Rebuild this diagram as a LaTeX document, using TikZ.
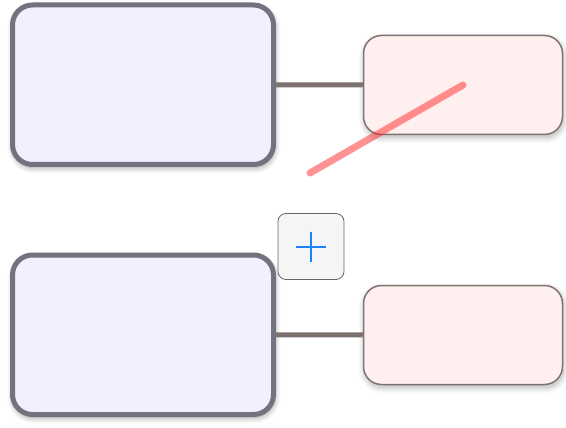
\documentclass[tikz,border=0pt]{standalone}
\usetikzlibrary{shadows.blur}
\definecolor{bigfill}{HTML}{F0F0FE}
\definecolor{bigdraw}{HTML}{737380}
\definecolor{pinkfill}{HTML}{FFF0EF}
\definecolor{pinkdraw}{HTML}{7F7372}
\definecolor{linkcol}{HTML}{7D7170}
\definecolor{btnfill}{HTML}{F5F5F5}
\definecolor{btndraw}{HTML}{666666}
\definecolor{pluscol}{HTML}{1A82FF}
\definecolor{redline}{HTML}{FF1A1A}
\begin{document}
\begin{tikzpicture}[x=1pt,y=-1pt,
  bigbox/.style={draw=bigdraw,fill=bigfill,line width=5pt,rounded corners=20pt,
    minimum width=261pt,minimum height=159.5pt,inner sep=0pt,
    blur shadow={shadow xshift=1pt,shadow yshift=-3pt,shadow blur radius=6pt,shadow blur steps=10,shadow opacity=40}},
  pinkbox/.style={draw=pinkdraw,fill=pinkfill,line width=1.5pt,rounded corners=18pt,
    minimum width=199pt,minimum height=99pt,inner sep=0pt,
    blur shadow={shadow xshift=1pt,shadow yshift=-3pt,shadow blur radius=6pt,shadow blur steps=10,shadow opacity=30}},
  link/.style={draw=linkcol,line width=5pt},
  btn/.style={draw=btndraw,fill=btnfill,line width=0.8pt,rounded corners=8pt,
    minimum width=66pt,minimum height=66pt,inner sep=0pt},
  plusline/.style={draw=pluscol,line width=2pt},
  stroke/.style={draw=redline,draw opacity=0.47,line width=7pt,line cap=round}
]
\useasboundingbox (0,0) rectangle (566,428);
\node[bigbox] (big1) at (143,84.75) {};
\node[bigbox] (big2) at (143,334.75) {};
\node[pinkbox] (pink1) at (463,85) {};
\node[pinkbox] (pink2) at (463,335) {};
\draw[link] (big1.east) -- (pink1.west);
\draw[link] (big2.east) -- (pink2.west);
\node[btn] (add) at (311,246.5) {};
\draw[plusline] (add.center) ++(-15,0) -- ++(30,0);
\draw[plusline] (add.center) ++(0,-15) -- ++(0,30);
\coordinate (penstart) at (310,173);
\draw[stroke] (penstart) -- (pink1.center);
\end{tikzpicture}
\end{document}
